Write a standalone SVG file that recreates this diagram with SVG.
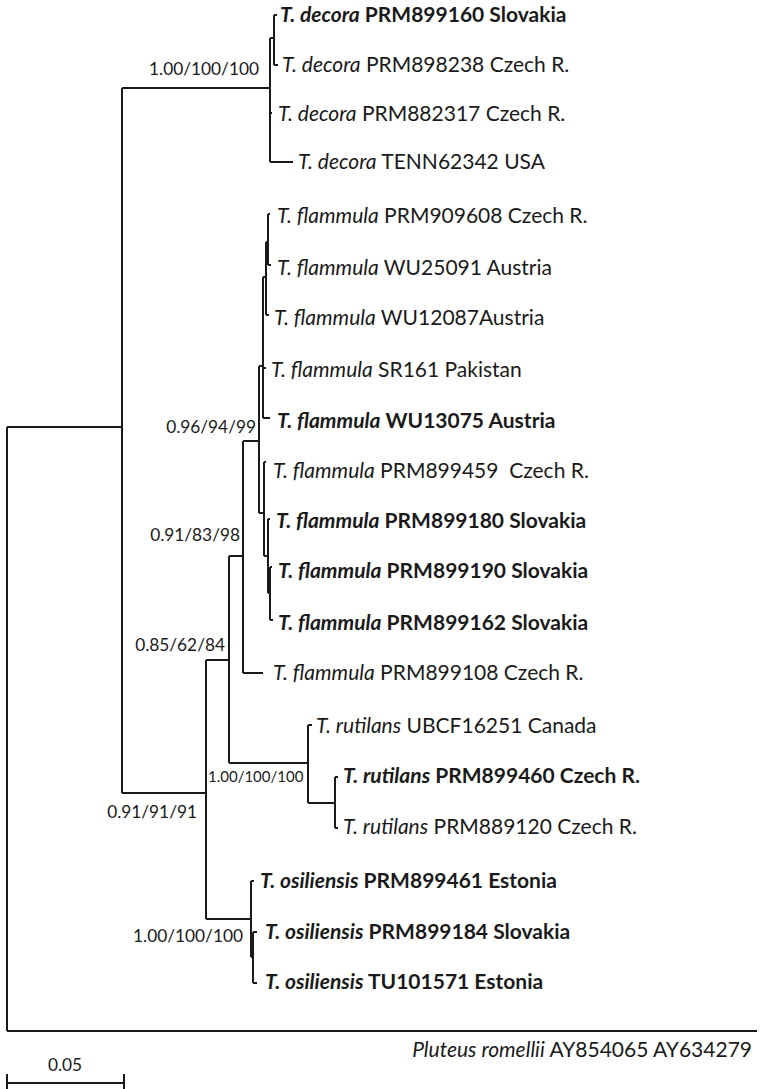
<svg xmlns="http://www.w3.org/2000/svg" width="760" height="1089" viewBox="0 0 760 1089">
<style>
text{font-family:"Lato","Carlito","Liberation Sans",sans-serif;fill:#1a1a1a}
.tip{font-size:21px}
.b{font-weight:bold}
.i{font-style:italic}
.sup{font-size:17.3px}
.e{text-anchor:end}
#edges path{fill:none;stroke:#1a1a1a;stroke-width:2}
</style>
<g id="edges">
<path d="M7,427 V1031 M7,427 H122 M7,1031 H757"/>
<path d="M122,88 V793 M122,88 H270 M122,793 H206"/>
<path d="M270,38 V162 M270,38 H274 M270,113 H272 M270,162 H293"/>
<path d="M274,15 V65 M274,15 H277 M274,65 H278"/>
<path d="M206,660 V919 M206,660 H229 M206,919 H251"/>
<path d="M229,556 V763 M229,556 H243 M229,763 H308"/>
<path d="M243,441 V673 M243,441 H259 M243,673 H263"/>
<path d="M259,366 V513 M259,366 H263 M259,513 H264"/>
<path d="M263,277 V418 M263,277 H266 M263,368 H266 M263,418 H270"/>
<path d="M266,242 V315 M266,242 H268 M266,315 H269"/>
<path d="M268,214 V265 M268,214 H270 M268,265 H271"/>
<path d="M264,462 V556 M264,462 H266 M264,556 H268"/>
<path d="M268,519 V593 M268,519 H270 M268,593 H270"/>
<path d="M270,567 V620 M270,567 H272 M270,620 H273"/>
<path d="M308,725 V803 M308,725 H312 M308,803 H335"/>
<path d="M335,777 V828 M335,777 H338 M335,828 H338"/>
<path d="M251,881 V957 M251,881 H254 M251,957 H253"/>
<path d="M253,932 V983 M253,932 H257 M253,983 H257"/>
<path d="M7,1083 H124 M7,1074 V1089 M124,1074 V1089"/>
</g>
<g id="t1"><text class="tip b" x="280" y="22"><tspan class="i">T. decora</tspan> PRM899160 Slovakia</text></g>
<g id="t2"><text class="tip" x="282" y="72"><tspan class="i">T. decora</tspan> PRM898238 Czech R.</text></g>
<g id="t3"><text class="tip" x="278" y="121"><tspan class="i">T. decora</tspan> PRM882317 Czech R.</text></g>
<g id="t4"><text class="tip" x="298" y="169"><tspan class="i">T. decora</tspan> TENN62342 USA</text></g>
<g id="t5"><text class="tip" x="277" y="223"><tspan class="i">T. flammula</tspan> PRM909608 Czech R.</text></g>
<g id="t6"><text class="tip" x="277" y="275"><tspan class="i">T. flammula</tspan> WU25091 Austria</text></g>
<g id="t7"><text class="tip" x="274" y="325"><tspan class="i">T. flammula</tspan> WU12087Austria</text></g>
<g id="t8"><text class="tip" x="271" y="377"><tspan class="i">T. flammula</tspan> SR161 Pakistan</text></g>
<g id="t9"><text class="tip b" x="277" y="428"><tspan class="i">T. flammula</tspan> WU13075 Austria</text></g>
<g id="t10"><text class="tip" x="273" y="478" xml:space="preserve"><tspan class="i">T. flammula</tspan> PRM899459  Czech R.</text></g>
<g id="t11"><text class="tip b" x="276" y="528"><tspan class="i">T. flammula</tspan> PRM899180 Slovakia</text></g>
<g id="t12"><text class="tip b" x="278" y="578"><tspan class="i">T. flammula</tspan> PRM899190 Slovakia</text></g>
<g id="t13"><text class="tip b" x="278" y="630"><tspan class="i">T. flammula</tspan> PRM899162 Slovakia</text></g>
<g id="t14"><text class="tip" x="273" y="680"><tspan class="i">T. flammula</tspan> PRM899108 Czech R.</text></g>
<g id="t15"><text class="tip" x="316" y="733"><tspan class="i">T. rutilans</tspan> UBCF16251 Canada</text></g>
<g id="t16"><text class="tip b" x="343" y="783"><tspan class="i">T. rutilans</tspan> PRM899460 Czech R.</text></g>
<g id="t17"><text class="tip" x="343" y="834"><tspan class="i">T. rutilans</tspan> PRM889120 Czech R.</text></g>
<g id="t18"><text class="tip b" x="260" y="888"><tspan class="i">T. osiliensis</tspan> PRM899461 Estonia</text></g>
<g id="t19"><text class="tip b" x="265" y="939"><tspan class="i">T. osiliensis</tspan> PRM899184 Slovakia</text></g>
<g id="t20"><text class="tip b" x="265" y="989"><tspan class="i">T. osiliensis</tspan> TU101571 Estonia</text></g>
<g id="t21"><text class="tip e" x="752" y="1057"><tspan class="i">Pluteus romellii</tspan> AY854065 AY634279</text></g>
<g id="supports">
<text class="sup e" x="259" y="75">1.00/100/100</text>
<text class="sup e" x="256" y="433">0.96/94/99</text>
<text class="sup e" x="240" y="541">0.91/83/98</text>
<text class="sup e" x="225" y="651">0.85/62/84</text>
<text class="sup" x="208" y="782" style="font-size:15px">1.00/100/100</text>
<text class="sup e" x="197" y="818">0.91/91/91</text>
<text class="sup e" x="243" y="942">1.00/100/100</text>
</g>
<g id="scale"><text class="sup" x="65" y="1071" text-anchor="middle">0.05</text></g>
</svg>
